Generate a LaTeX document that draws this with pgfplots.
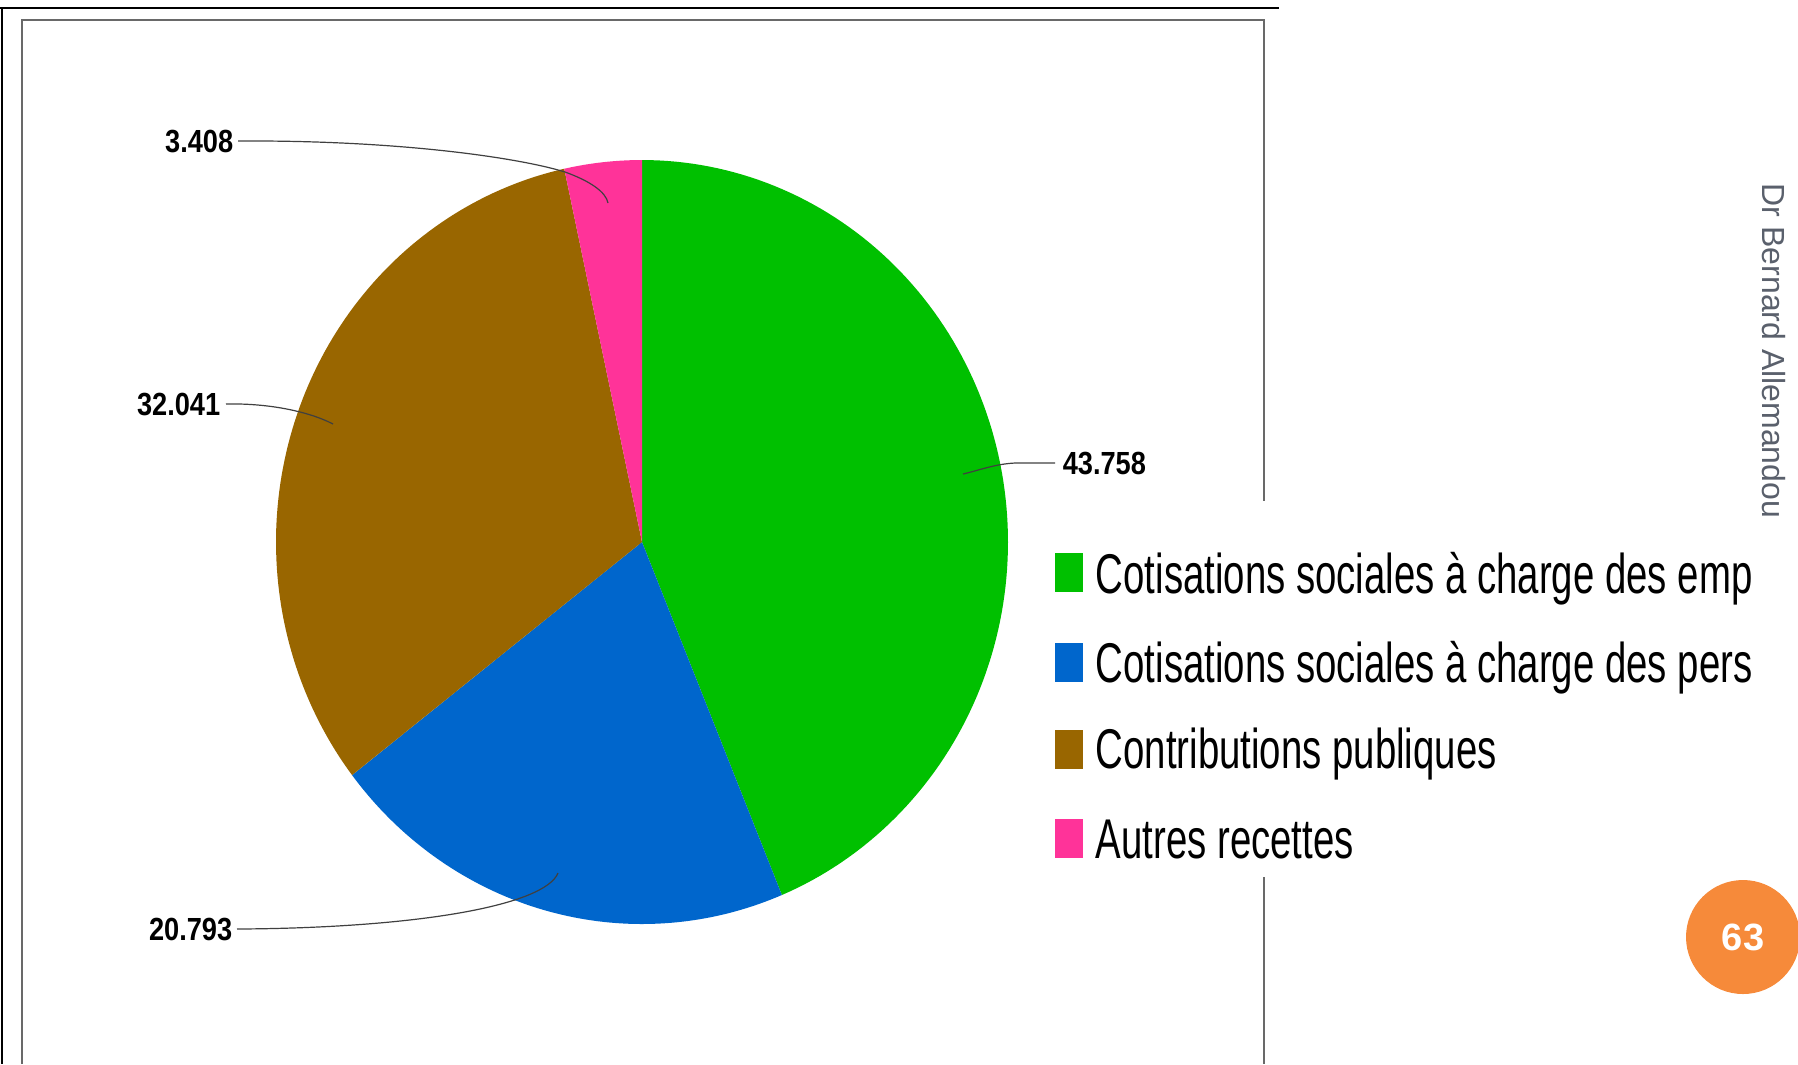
\documentclass[border=0pt]{standalone}
\usepackage{pgfplots}
\pgfplotsset{compat=1.18}
\usepackage{fontspec}
\setmainfont{Liberation Sans}
\newfontfamily\labfont[FakeStretch=0.85]{Liberation Sans}
\newfontfamily\legfont[FakeStretch=0.685]{Liberation Sans}
\definecolor{cgreen}{RGB}{0,192,0}
\definecolor{cblue}{RGB}{0,102,204}
\definecolor{cbrown}{RGB}{153,102,0}
\definecolor{cpink}{RGB}{255,51,153}
\definecolor{corange}{RGB}{246,138,58}
\definecolor{sidegray}{RGB}{90,96,108}
\definecolor{framegray}{RGB}{105,105,105}
% slice values
\def\vA{43.758}\def\vB{20.793}\def\vC{32.041}\def\vD{3.408}
\begin{document}
\begin{tikzpicture}
\pgfmathsetmacro{\aS}{90}
\pgfmathsetmacro{\aA}{90-3.6*\vA}
\pgfmathsetmacro{\aB}{\aA-3.6*\vB}
\pgfmathsetmacro{\aC}{\aB-3.6*\vC}
\pgfmathsetmacro{\aD}{\aC-3.6*\vD}
\begin{axis}[width=449.5pt,height=266pt,scale only axis,
  xmin=0,xmax=1798,ymin=0,ymax=1064,y dir=reverse,hide axis,clip=false]
% frames
\draw[black,line width=0.55pt] (axis cs:0,8) -- (axis cs:1279,8);
\draw[black,line width=0.5pt] (axis cs:2,8) -- (axis cs:2,1064);
\draw[framegray,line width=0.6pt] (axis cs:22,1064) -- (axis cs:22,20) -- (axis cs:1264,20) -- (axis cs:1264,1064);
% pie slices
\addplot[fill=cgreen,draw=none,domain=\aA:\aS,samples=120] ({642+366*cos(x)},{542-382*sin(x)}) -- (axis cs:642,542) -- cycle;
\addplot[fill=cblue,draw=none,domain=\aB:\aA,samples=80] ({642+366*cos(x)},{542-382*sin(x)}) -- (axis cs:642,542) -- cycle;
\addplot[fill=cbrown,draw=none,domain=\aC:\aB,samples=100] ({642+366*cos(x)},{542-382*sin(x)}) -- (axis cs:642,542) -- cycle;
\addplot[fill=cpink,draw=none,domain=\aD:\aC,samples=20] ({642+366*cos(x)},{542-382*sin(x)}) -- (axis cs:642,542) -- cycle;
% leader lines
\draw[black!75,line width=0.3pt] (axis cs:238,141) .. controls (axis cs:400,140) and (axis cs:520,158) .. (axis cs:565,172) .. controls (axis cs:590,181) and (axis cs:606,192) .. (axis cs:608,203);
\draw[black!75,line width=0.3pt] (axis cs:226,404) .. controls (axis cs:270,403) and (axis cs:310,412) .. (axis cs:333,424);
\draw[black!75,line width=0.3pt] (axis cs:1055,463) -- (axis cs:1015,463) .. controls (axis cs:995,464) and (axis cs:980,470) .. (axis cs:963,474);
\draw[black!75,line width=0.3pt] (axis cs:237,929) .. controls (axis cs:420,928) and (axis cs:545,905) .. (axis cs:558,873);
% labels
\node[anchor=east,inner sep=0pt,font=\labfont\bfseries\fontsize{8}{9}\selectfont] at (axis cs:234,141) {3.408};
\node[anchor=east,inner sep=0pt,font=\labfont\bfseries\fontsize{8}{9}\selectfont] at (axis cs:221,404) {32.041};
\node[anchor=west,inner sep=0pt,font=\labfont\bfseries\fontsize{8}{9}\selectfont] at (axis cs:1062,463) {43.758};
\node[anchor=east,inner sep=0pt,font=\labfont\bfseries\fontsize{8}{9}\selectfont] at (axis cs:233,929) {20.793};
% legend
\fill[white] (axis cs:1038,501) rectangle (axis cs:1760,877);
\fill[cgreen] (axis cs:1055,553) rectangle (axis cs:1083,592);
\fill[cblue]  (axis cs:1055,643) rectangle (axis cs:1083,682);
\fill[cbrown] (axis cs:1055,730) rectangle (axis cs:1083,769);
\fill[cpink]  (axis cs:1055,819) rectangle (axis cs:1083,858);
\begin{scope}
\clip (axis cs:1038,501) rectangle (axis cs:1754,877);
\node[anchor=base west,inner sep=0pt,font=\legfont\fontsize{14}{16}\selectfont] at (axis cs:1095,593) {Cotisations sociales à charge des emp};
\node[anchor=base west,inner sep=0pt,font=\legfont\fontsize{14}{16}\selectfont] at (axis cs:1095,682) {Cotisations sociales à charge des pers};
\node[anchor=base west,inner sep=0pt,font=\legfont\fontsize{14}{16}\selectfont] at (axis cs:1095,768) {Contributions publiques};
\node[anchor=base west,inner sep=0pt,font=\legfont\fontsize{14}{16}\selectfont] at (axis cs:1095,858) {Autres recettes};
\end{scope}
% side text
\node[rotate=-90,anchor=west,inner sep=0pt,text=sidegray,font=\fontsize{8}{9}\selectfont] at (axis cs:1774,183) {Dr Bernard Allemandou};
% page badge
\fill[corange] (axis cs:1743,937) ellipse [x radius=14.25pt,y radius=14.25pt];
\node[text=white,font=\bfseries\fontsize{9.5}{10}\selectfont] at (axis cs:1743,937) {63};
\end{axis}
\pgfresetboundingbox
\path (0,0) rectangle (449.5pt,266pt);
\end{tikzpicture}
\end{document}
